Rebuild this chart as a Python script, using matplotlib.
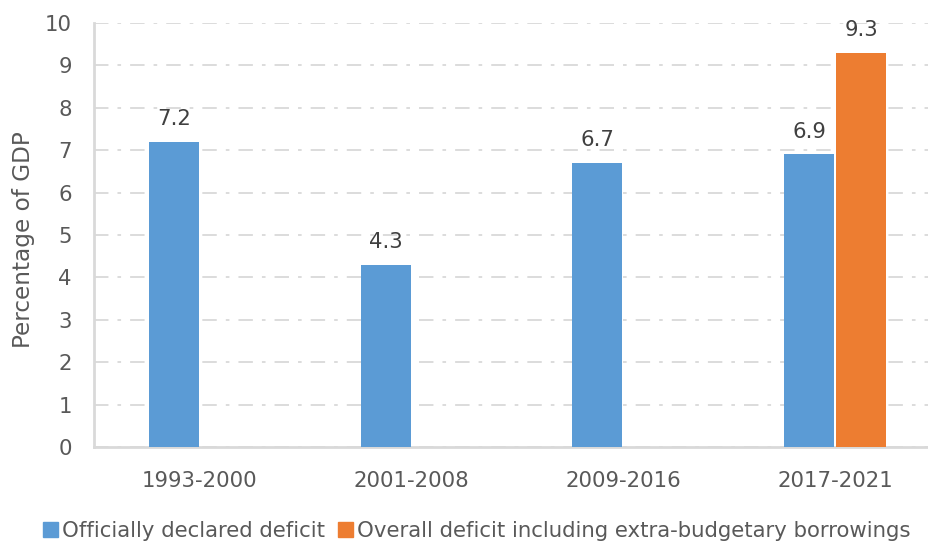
import matplotlib
matplotlib.use("Agg")
import matplotlib.pyplot as plt
import numpy as np

periods = ["1993-2000", "2001-2008", "2009-2016", "2017-2021"]
official = [7.2, 4.3, 6.7, 6.9]
overall = [None, None, None, 9.3]
series_names = ["Officially declared deficit",
                "Overall deficit including extra-budgetary borrowings"]
yticks = list(range(0, 11))

blue = "#5B9BD5"
orange = "#ED7D31"
text_col = "#595959"
label_col = "#404040"
grid_col = "#D9D9D9"
fs = 15.3

plt.rcParams["font.family"] = ["DejaVu Sans"]

fig = plt.figure(figsize=(9.29, 5.44), dpi=100)
ax = fig.add_axes([94 / 929, 1 - 447 / 544, (929 - 94) / 929, (447 - 23) / 544])

x = np.arange(len(periods))
w = 0.236
gap = 0.005

for i, v in enumerate(official):
    xpos = x[i] - (w / 2 + gap)
    ax.bar(xpos, v, width=w, color=blue, zorder=3)
    ax.annotate(f"{v:.1f}", (xpos, v), xytext=(0, 9), textcoords="offset points",
                ha="center", va="bottom", fontsize=fs, color=label_col)
for i, v in enumerate(overall):
    if v is None:
        continue
    xpos = x[i] + (w / 2 + gap)
    ax.bar(xpos, v, width=w, color=orange, zorder=3)
    ax.annotate(f"{v:.1f}", (xpos, v), xytext=(0, 9), textcoords="offset points",
                ha="center", va="bottom", fontsize=fs, color=label_col)

ax.set_ylim(0, 10)
ax.set_yticks(yticks)
ax.set_xticks(x)
ax.set_xticklabels(periods)
ax.set_xlim(-0.5, 3.5 - (941 - 929) / 211.7)

ax.tick_params(axis="both", length=0, labelsize=fs, labelcolor=text_col)
ax.tick_params(axis="x", pad=17)
ax.tick_params(axis="y", pad=16)

ax.grid(axis="y", color=grid_col, linestyle=(0, (8, 5, 2, 5)), linewidth=1.3, zorder=0)
for s in ["top", "right"]:
    ax.spines[s].set_visible(False)
for s in ["left", "bottom"]:
    ax.spines[s].set_color(grid_col)
    ax.spines[s].set_linewidth(2)

ax.set_ylabel("Percentage of GDP", fontsize=16.7, color=text_col)
ax.yaxis.set_label_coords(-59 / 835, 0.49)

handles = [plt.Rectangle((0, 0), 1, 1, color=blue), plt.Rectangle((0, 0), 1, 1, color=orange)]
fig.legend(handles, series_names, loc="lower center", bbox_to_anchor=(477 / 929, -0.03),
           ncol=2, frameon=False, fontsize=fs, labelcolor=text_col,
           handlelength=0.7, handleheight=0.7, handletextpad=0.2, columnspacing=0.6)

fig.savefig("out.png", dpi=100)
